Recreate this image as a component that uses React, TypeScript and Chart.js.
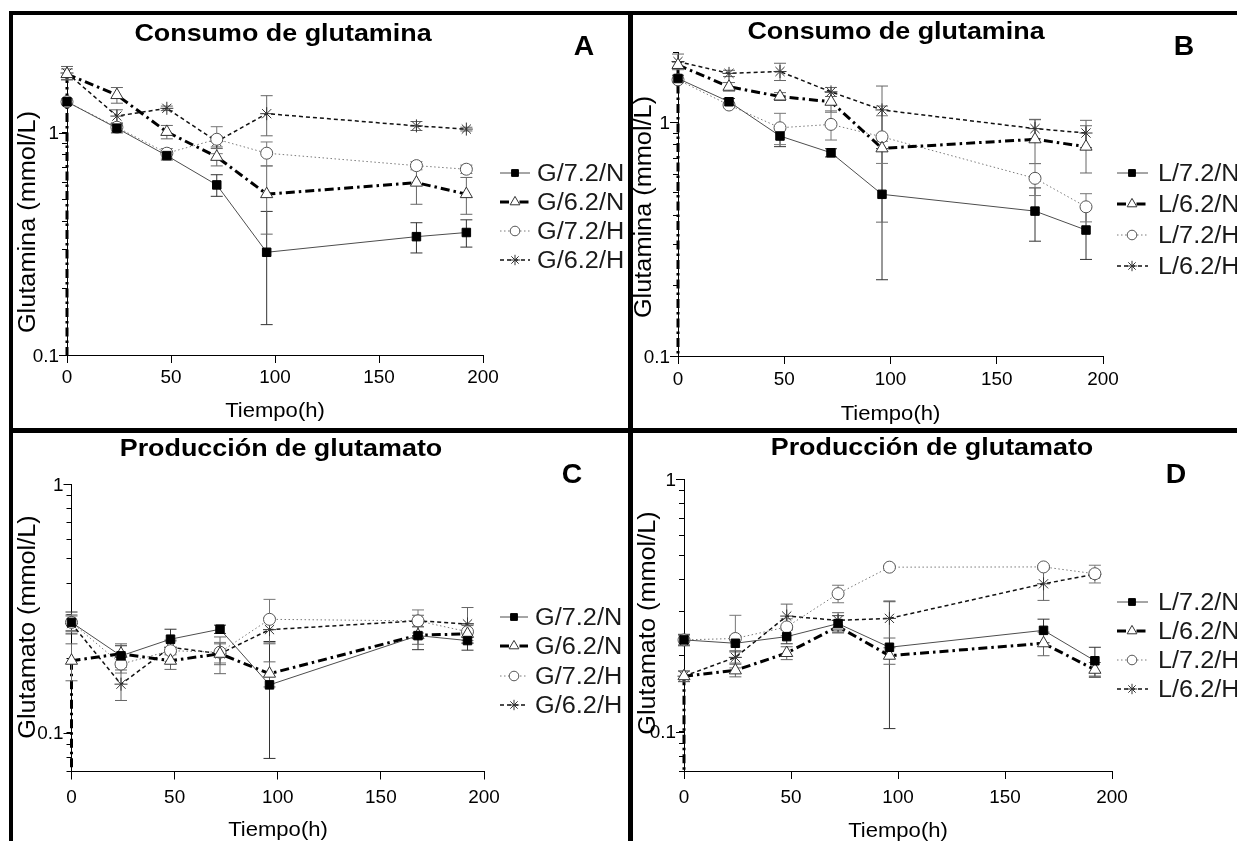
import React, { useEffect, useRef } from 'react';
import { Chart, registerables } from 'chart.js';
import { drawPoint } from 'chart.js/helpers';

Chart.register(...registerables);

// ---------------- data ----------------
const TIME_H = [0, 24, 48, 72, 96, 168, 192];
const X_TICKS = [0, 50, 100, 150, 200];
const Y_TICKS_GLN = [0.1, 0.2, 0.3, 0.4, 0.5, 0.6, 0.7, 0.8, 0.9, 1, 2];
const Y_TICKS_GLU = [0.07, 0.08, 0.09, 0.1, 0.2, 0.3, 0.4, 0.5, 0.6, 0.7, 0.8, 0.9, 1];
const Y_LABELS = [0.1, 1];

const LEGEND_G = ['G/7.2/N', 'G/6.2/N', 'G/7.2/H', 'G/6.2/H'];
const LEGEND_L = ['L/7.2/N', 'L/6.2/N', 'L/7.2/H', 'L/6.2/H'];

// Panel A – glutamine, G
const A_G72N = [1.38, 1.05, 0.79, 0.583, 0.29, 0.341, 0.356];
const A_G72N_SD = [0.04, 0.05, 0.035, 0.065, 0.153, 0.053, 0.05];
const A_G62N = [1.84, 1.48, 1.01, 0.78, 0.53, 0.597, 0.53];
const A_G62N_SD = [0.1, 0.12, 0.07, 0.07, 0.18, 0.12, 0.1];
const A_G72H = [1.38, 1.06, 0.81, 0.936, 0.81, 0.712, 0.686];
const A_G72H_SD = [0.03, 0.04, 0.04, 0.13, 0.1, 0.03, 0.03];
const A_G62H = [1.86, 1.19, 1.29, 0.914, 1.22, 1.075, 1.04];
const A_G62H_SD = [0.13, 0.08, 0.03, 0.05, 0.25, 0.05, 0.02];

// Panel B – glutamine, L
const B_L72N = [1.54, 1.225, 0.874, 0.741, 0.492, 0.417, 0.346];
const B_L72N_SD = [0.05, 0.04, 0.087, 0.03, 0.28, 0.107, 0.087];
const B_L62N = [1.76, 1.42, 1.29, 1.225, 0.774, 0.846, 0.787];
const B_L62N_SD = [0.05, 0.06, 0.05, 0.12, 0.4, 0.18, 0.18];
const B_L72H = [1.52, 1.186, 0.948, 0.98, 0.867, 0.576, 0.435];
const B_L72H_SD = [0.04, 0.03, 0.145, 0.14, 0.2, 0.09, 0.06];
const B_L62H = [1.82, 1.62, 1.65, 1.35, 1.13, 0.94, 0.9];
const B_L62H_SD = [0.14, 0.05, 0.14, 0.06, 0.3, 0.09, 0.12];

// Panel C – glutamate, G
const C_G72N = [0.278, 0.204, 0.238, 0.261, 0.156, 0.246, 0.235];
const C_G72N_SD = [0.028, 0.02, 0.023, 0.01, 0.077, 0.03, 0.02];
const C_G62N = [0.195, 0.208, 0.195, 0.208, 0.173, 0.247, 0.25];
const C_G62N_SD = [0.033, 0.02, 0.015, 0.035, 0.02, 0.02, 0.02];
const C_G72H = [0.278, 0.189, 0.214, 0.211, 0.286, 0.282, 0.255];
const C_G72H_SD = [0.02, 0.015, 0.02, 0.02, 0.058, 0.03, 0.02];
const C_G62H = [0.275, 0.157, 0.221, 0.208, 0.26, 0.282, 0.274];
const C_G62H_SD = [0.02, 0.022, 0.015, 0.02, 0.03, 0.015, 0.045];

// Panel D – glutamate, L
const D_L72N = [0.231, 0.224, 0.238, 0.268, 0.216, 0.252, 0.191];
const D_L72N_SD = [0.012, 0.015, 0.015, 0.02, 0.113, 0.027, 0.025];
const D_L62N = [0.166, 0.175, 0.205, 0.261, 0.2, 0.224, 0.176];
const D_L62N_SD = [0.008, 0.01, 0.012, 0.015, 0.015, 0.024, 0.012];
const D_L72H = [0.231, 0.234, 0.26, 0.352, 0.448, 0.449, 0.422];
const D_L72H_SD = [0.01, 0.055, 0.02, 0.028, 0.005, 0.005, 0.034];
const D_L62H = [0.166, 0.197, 0.287, 0.276, 0.281, 0.385, 0.42];
const D_L62H_SD = [0.008, 0.01, 0.033, 0.02, 0.046, 0.054, 0.01];

// ---------------- styles ----------------
const FONT = '"Liberation Sans", Arial, Helvetica, sans-serif';

const SERIES_STYLE = [
  { line: '#4d4d4d', width: 1, dash: [] as number[], point: 'rect', radius: 6, fill: '#000', stroke: '#000', err: '#333' },
  { line: '#000', width: 3, dash: [9, 4, 2.5, 4], point: 'triangle', radius: 7, fill: '#fff', stroke: '#333', err: '#666' },
  { line: '#7a7a7a', width: 1, dash: [1.5, 2.5], point: 'circle', radius: 6, fill: '#fff', stroke: '#555', err: '#777' },
  { line: '#111', width: 1.5, dash: [4, 3], point: 'star', radius: 6.5, fill: '#fff', stroke: '#333', err: '#666' },
];

interface Panel {
  key: string;
  title: string;
  letter: string;
  yTitle: string;
  legend: string[];
  series: number[][];
  sds: number[][];
  yMin: number;
  yMax: number;
  yTicks: number[];
  cx: number; cy: number; cw: number; ch: number;
  pl: number; pr: number; pt: number; pb: number;
  titlePos: [number, number];
  letterPos: [number, number];
  yTitlePos: [number, number];
  xTitlePos: [number, number];
  xLabY: number;
  legRows: number[];
  legX1: number; legX2: number; legMX: number; legTX: number;
}

const PANELS: Panel[] = [
  {
    key: 'A', title: 'Consumo de glutamina', letter: 'A', yTitle: 'Glutamina (mmol/L)', legend: LEGEND_G,
    series: [A_G72N, A_G62N, A_G72H, A_G62H], sds: [A_G72N_SD, A_G62N_SD, A_G72H_SD, A_G62H_SD],
    yMin: 0.1, yMax: 2, yTicks: Y_TICKS_GLN,
    cx: 13, cy: 15, cw: 615, ch: 413,
    pl: 67, pr: 483, pt: 66, pb: 355,
    titlePos: [283, 41], letterPos: [584, 55], yTitlePos: [34.5, 222], xTitlePos: [275, 417], xLabY: 383,
    legRows: [173, 202, 231, 260], legX1: 500, legX2: 530, legMX: 515, legTX: 537,
  },
  {
    key: 'B', title: 'Consumo de glutamina', letter: 'B', yTitle: 'Glutamina (mmol/L)', legend: LEGEND_L,
    series: [B_L72N, B_L62N, B_L72H, B_L62H], sds: [B_L72N_SD, B_L62N_SD, B_L72H_SD, B_L62H_SD],
    yMin: 0.1, yMax: 2, yTicks: Y_TICKS_GLN,
    cx: 633, cy: 15, cw: 604, ch: 413,
    pl: 678, pr: 1103, pt: 52, pb: 356,
    titlePos: [896, 38.5], letterPos: [1184, 55], yTitlePos: [651, 207], xTitlePos: [890.5, 420], xLabY: 385,
    legRows: [173, 204, 235, 266], legX1: 1117, legX2: 1148, legMX: 1132, legTX: 1158,
  },
  {
    key: 'C', title: 'Producción de glutamato', letter: 'C', yTitle: 'Glutamato (mmol/L)', legend: LEGEND_G,
    series: [C_G72N, C_G62N, C_G72H, C_G62H], sds: [C_G72N_SD, C_G62N_SD, C_G72H_SD, C_G62H_SD],
    yMin: 0.07, yMax: 1, yTicks: Y_TICKS_GLU,
    cx: 13, cy: 433, cw: 615, ch: 408,
    pl: 71.5, pr: 484, pt: 484, pb: 771.5,
    titlePos: [281, 456], letterPos: [572, 483], yTitlePos: [34.5, 627], xTitlePos: [278, 836], xLabY: 803,
    legRows: [617, 646, 676, 705], legX1: 500, legX2: 528, legMX: 514, legTX: 535,
  },
  {
    key: 'D', title: 'Producción de glutamato', letter: 'D', yTitle: 'Glutamato (mmol/L)', legend: LEGEND_L,
    series: [D_L72N, D_L62N, D_L72H, D_L62H], sds: [D_L72N_SD, D_L62N_SD, D_L72H_SD, D_L62H_SD],
    yMin: 0.07, yMax: 1, yTicks: Y_TICKS_GLU,
    cx: 633, cy: 433, cw: 604, ch: 408,
    pl: 684, pr: 1112, pt: 479, pb: 771,
    titlePos: [932, 455], letterPos: [1176, 483], yTitlePos: [655, 623], xTitlePos: [898, 837], xLabY: 803,
    legRows: [602, 631, 660, 689], legX1: 1117, legX2: 1148, legMX: 1132, legTX: 1158,
  },
];

function drawText(
  ctx: CanvasRenderingContext2D, text: string, x: number, y: number, size: number,
  o: { bold?: boolean; sx?: number; align?: CanvasTextAlign; rotate?: number; color?: string } = {}
) {
  ctx.save();
  ctx.translate(x, y);
  if (o.rotate) ctx.rotate(o.rotate);
  ctx.scale(o.sx ?? 1, 1);
  ctx.font = `${o.bold ? 'bold ' : ''}${size}px ${FONT}`;
  ctx.fillStyle = o.color ?? '#000';
  ctx.textAlign = o.align ?? 'left';
  ctx.textBaseline = 'alphabetic';
  ctx.fillText(text, 0, 0);
  ctx.restore();
}

function makeDecor(p: Panel) {
  return {
    id: 'decor' + p.key,
    beforeDatasetsDraw(chart: any) {
      const ctx: CanvasRenderingContext2D = chart.ctx;
      const xs = chart.scales.x;
      const ys = chart.scales.y;
      ctx.save();
      // drop line of the dash-dot series at t = 0
      const s1 = SERIES_STYLE[1];
      const x0 = xs.getPixelForValue(TIME_H[0]);
      ctx.strokeStyle = s1.line;
      ctx.lineWidth = s1.width;
      ctx.setLineDash(s1.dash);
      ctx.beginPath();
      ctx.moveTo(x0, ys.getPixelForValue(p.series[1][0]));
      ctx.lineTo(x0, chart.chartArea.bottom);
      ctx.stroke();
      ctx.setLineDash([]);
      // error bars
      p.series.forEach((vals, i) => {
        const sds = p.sds[i];
        ctx.strokeStyle = SERIES_STYLE[i].err;
        ctx.lineWidth = 1;
        vals.forEach((v, j) => {
          const x = xs.getPixelForValue(TIME_H[j]);
          const yt = ys.getPixelForValue(v + sds[j]);
          const yb = ys.getPixelForValue(Math.max(v - sds[j], p.yMin));
          ctx.beginPath();
          ctx.moveTo(x, yt); ctx.lineTo(x, yb);
          ctx.moveTo(x - 6, yt); ctx.lineTo(x + 6, yt);
          ctx.moveTo(x - 6, yb); ctx.lineTo(x + 6, yb);
          ctx.stroke();
        });
      });
      ctx.restore();
    },
    afterDraw(chart: any) {
      const ctx: CanvasRenderingContext2D = chart.ctx;
      const xs = chart.scales.x;
      const ys = chart.scales.y;
      const ox = p.cx, oy = p.cy;
      ctx.save();
      // longer major ticks on y
      ctx.strokeStyle = '#000';
      ctx.lineWidth = 1;
      Y_LABELS.forEach((v) => {
        const y = Math.round(ys.getPixelForValue(v)) + 0.5;
        ctx.beginPath();
        ctx.moveTo(p.pl - ox - 8, y);
        ctx.lineTo(p.pl - ox, y);
        ctx.stroke();
      });
      // tick labels
      X_TICKS.forEach((v) => {
        drawText(ctx, String(v), xs.getPixelForValue(v), p.xLabY - oy, 18, { align: 'center', sx: 1.05 });
      });
      Y_LABELS.forEach((v) => {
        drawText(ctx, String(v), p.pl - ox - 8, ys.getPixelForValue(v) + 6.5, 18, { align: 'right', sx: 1.05 });
      });
      // axis titles
      drawText(ctx, 'Tiempo(h)', p.xTitlePos[0] - ox, p.xTitlePos[1] - oy, 21, { align: 'center', sx: 1.05 });
      drawText(ctx, p.yTitle, p.yTitlePos[0] - ox, p.yTitlePos[1] - oy, 23, { align: 'center', sx: 1.1, rotate: -Math.PI / 2 });
      // panel title and letter
      drawText(ctx, p.title, p.titlePos[0] - ox, p.titlePos[1] - oy, 24, { align: 'center', bold: true, sx: 1.12 });
      drawText(ctx, p.letter, p.letterPos[0] - ox, p.letterPos[1] - oy, 27, { align: 'center', bold: true, sx: 1.05 });
      // legend
      p.legend.forEach((name, i) => {
        const st = SERIES_STYLE[i];
        const y = p.legRows[i] - oy;
        ctx.strokeStyle = st.line;
        ctx.lineWidth = st.width;
        ctx.setLineDash(st.dash);
        ctx.beginPath();
        ctx.moveTo(p.legX1 - ox, y);
        ctx.lineTo(p.legX2 - ox, y);
        ctx.stroke();
        ctx.setLineDash([]);
        ctx.fillStyle = st.fill;
        ctx.strokeStyle = st.stroke;
        ctx.lineWidth = 1;
        drawPoint(ctx, { pointStyle: st.point as any, radius: st.radius * 0.8, rotation: 0, borderWidth: 1 } as any, p.legMX - ox, y);
        drawText(ctx, name, p.legTX - ox, y + 8.3, 23, { sx: 1.1, color: '#1a1a1a' });
      });
      ctx.restore();
    },
  };
}

function PanelChart({ p }: { p: Panel }) {
  const ref = useRef<HTMLCanvasElement>(null);
  useEffect(() => {
    const canvas = ref.current!;
    const chart = new Chart(canvas, {
      type: 'line',
      data: {
        datasets: p.series.map((vals, i) => {
          const st = SERIES_STYLE[i];
          return {
            label: p.legend[i],
            data: vals.map((v, j) => ({ x: TIME_H[j], y: v })),
            borderColor: st.line,
            borderWidth: st.width,
            borderDash: st.dash,
            pointStyle: st.point as any,
            pointRadius: st.radius,
            pointBackgroundColor: st.fill,
            pointBorderColor: st.stroke,
            pointBorderWidth: 1,
            tension: 0,
            fill: false,
            clip: false as any,
          };
        }),
      },
      options: {
        responsive: false,
        maintainAspectRatio: false,
        animation: false,
        devicePixelRatio: 1,
        events: [],
        layout: { padding: { left: 0, top: p.pt - p.cy, right: p.cx + p.cw - p.pr, bottom: 0 } },
        plugins: { legend: { display: false }, title: { display: false }, tooltip: { enabled: false } },
        scales: {
          x: {
            type: 'linear',
            min: 0,
            max: 200,
            afterBuildTicks: (s: any) => { s.ticks = X_TICKS.map((v) => ({ value: v })); },
            afterFit: (s: any) => { s.height = p.cy + p.ch - p.pb; },
            ticks: { callback: () => '', autoSkip: false, padding: 0 },
            grid: { display: true, drawOnChartArea: false, drawTicks: true, tickLength: 8, color: '#000', lineWidth: 1 },
            border: { display: true, color: '#000', width: 1 },
          },
          y: {
            type: 'logarithmic',
            min: p.yMin,
            max: p.yMax,
            afterBuildTicks: (s: any) => { s.ticks = p.yTicks.map((v) => ({ value: v })); },
            afterFit: (s: any) => { s.width = p.pl - p.cx; },
            ticks: { callback: () => '', autoSkip: false, padding: 0 },
            grid: { display: true, drawOnChartArea: false, drawTicks: true, tickLength: 5, color: '#000', lineWidth: 1 },
            border: { display: true, color: '#000', width: 1 },
          },
        },
      } as any,
      plugins: [makeDecor(p)],
    });
    return () => chart.destroy();
  }, [p]);
  return (
    <canvas
      ref={ref}
      width={p.cw}
      height={p.ch}
      style={{ position: 'absolute', left: p.cx, top: p.cy, width: p.cw, height: p.ch }}
    />
  );
}

const BAR: React.CSSProperties = { position: 'absolute', background: '#000' };

export default function App() {
  return (
    <div style={{ position: 'fixed', left: 0, top: 0, width: 1237, height: 841, background: '#fff', overflow: 'hidden' }}>
      {PANELS.map((p) => <PanelChart key={p.key} p={p} />)}
      <div style={{ ...BAR, left: 9, top: 11, width: 1228, height: 4 }} />
      <div style={{ ...BAR, left: 9, top: 11, width: 4, height: 830 }} />
      <div style={{ ...BAR, left: 628, top: 11, width: 5, height: 830 }} />
      <div style={{ ...BAR, left: 9, top: 428, width: 1228, height: 5 }} />
    </div>
  );
}
